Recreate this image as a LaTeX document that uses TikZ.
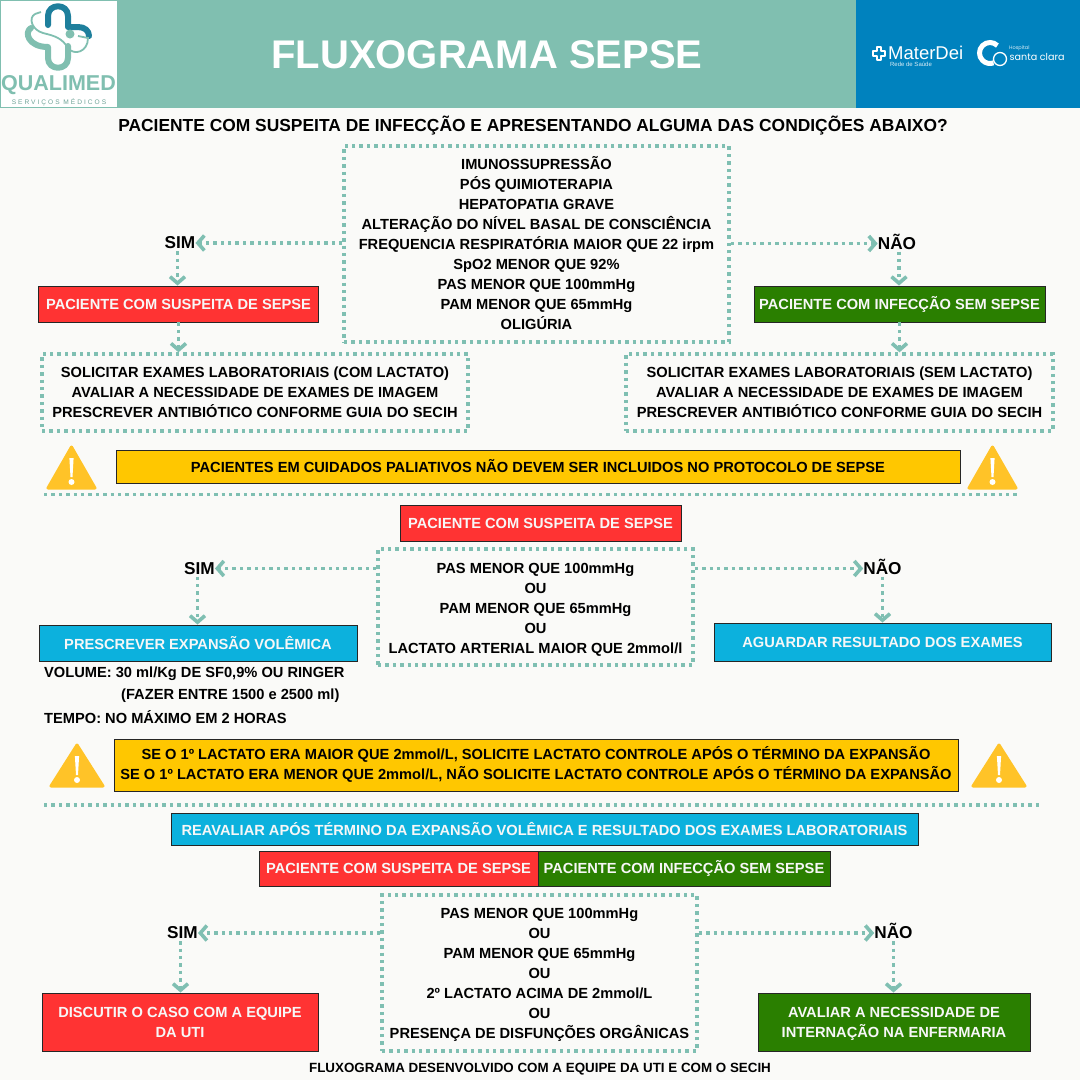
\documentclass[tikz,border=0pt]{standalone}
\usepackage{fontspec}
\setmainfont{Liberation Sans}
\newfontfamily\clarafont{Poppins}
\usetikzlibrary{arrows.meta}
\definecolor{bgc}{HTML}{FAFAF8}
\definecolor{tealc}{HTML}{80BFB0}
\definecolor{dotc}{HTML}{7FBFB2}
\definecolor{bluec}{HTML}{0082BE}
\definecolor{darkteal}{HTML}{1E7F9C}
\definecolor{redc}{HTML}{FF3333}
\definecolor{greenc}{HTML}{2A7F00}
\definecolor{cyanc}{HTML}{0CB1DD}
\definecolor{yellowc}{HTML}{FFC700}
\definecolor{warnc}{HTML}{FFC328}
\newcommand{\fs}[2]{\fontsize{#1}{#2}\selectfont}
\newcommand{\tb}[2]{\raisebox{#1pt}[0pt][0pt]{\begin{tabular}{@{}c@{}}#2\end{tabular}}}
\tikzset{
  x=1pt,y=-1pt,
  txt/.style={font=\bfseries\fs{14.65}{20},align=center,inner sep=0pt,text=black},
  sino/.style={font=\bfseries\fs{17.2}{20},inner sep=0pt,text=black,text height=11.8pt,text depth=0pt},
  solidbox/.style={draw=black!85,line width=0.9pt,inner sep=0pt,font=\bfseries\fs{14.65}{20},align=center,anchor=center},
  redbox/.style={solidbox,fill=redc,text=white!97!black},
  greenbox/.style={solidbox,fill=greenc,text=white!97!black},
  cyanbox/.style={solidbox,fill=cyanc,text=white!97!black},
  yellowbox/.style={solidbox,fill=yellowc,text=black},
  dotbox/.style={draw=dotc,line width=3.4pt,dash pattern=on 3.4pt off 4pt,inner sep=0pt,font=\bfseries\fs{14.65}{20},align=center,anchor=center},
  dotline/.style={draw=dotc,line width=3.4pt,dash pattern=on 3.4pt off 4pt},
  flow/.style={dotline,-{Straight Barb[length=6.5pt,width=15pt,line width=3.6pt]}},
  warnfill/.style={fill=warnc,draw=warnc,line width=3pt,line join=round},
}
\newcommand{\warnsign}[3]{%
  \path[warnfill] ({#1+2},#3+43) -- ({(#1+#2)/2},#3+2) -- ({#2-2},#3+43) -- cycle;
  \fill[white] ({(#1+#2)/2-2.1},#3+13) -- ({(#1+#2)/2+2.1},#3+13) -- ({(#1+#2)/2+1},#3+32) -- ({(#1+#2)/2-1},#3+32) -- cycle;
  \fill[white] ({(#1+#2)/2},#3+37) circle (3);
}
\begin{document}
\begin{tikzpicture}
\useasboundingbox (0,0) rectangle (1080,1080);
\fill[bgc] (0,0) rectangle (1080,1080);
% header
\fill[tealc] (117,0) rectangle (856,108);
\fill[bluec] (856,0) rectangle (1080,108);
\fill[white] (0,0) rectangle (117,108);
\draw[tealc,line width=0.8pt] (0.4,0.4) rectangle (117,107.6);
% qualimed logo
\draw[tealc,line width=6pt,line cap=round,line join=round] (31,28) .. controls (24,32) and (28,47) .. (48,47) -- (48,58) .. controls (48,71) and (68,71) .. (68,58) -- (68,46);
\draw[darkteal,line width=6pt,line cap=round,line join=round] (48,25) -- (48,16) .. controls (48,3) and (68,3) .. (68,16) -- (68,27) -- (78,27) .. controls (85,27) and (89,31) .. (89,36);
\draw[tealc,line width=1.8pt] (35,14) .. controls (28,18) and (32,30) .. (43,33) .. controls (55,36) and (62,38) .. (68,48) .. controls (74,56) and (88,52) .. (88,38) -- (78,36);
\draw[tealc,line width=1.8pt] (35,14) -- (41,12);
\fill[tealc] (70,34) circle (4.5);
\node[font=\bfseries\fs{21.5}{21.5},text=tealc,inner sep=0pt] (qualimed) at (58.5,85) {QUALIMED};
\node[font=\fs{6.6}{7}\addfontfeature{LetterSpace=30},text=tealc!85!black,inner sep=0pt] (servicos) at (59,102) {SERVIÇOS MÉDICOS};
\node[font=\bfseries\fs{40}{40},text=white,inner sep=0pt] (title) at (487,55) {FLUXOGRAMA SEPSE};
% partner logos
\draw[white,line width=1.6pt,line join=round] (877,47) -- (881,47) -- (881,51) -- (885,51)-- (885,56) -- (881,56) -- (881,60) -- (877,60) -- (877,56) -- (873,56) -- (873,51) -- (877,51) -- cycle;
\node[font=\fs{18.5}{18.5},text=white,inner sep=0pt,anchor=west] (mater) at (888,53) {MaterDei};
\node[font=\fs{6}{6},text=white!85!bluec,inner sep=0pt] (rede) at (911,64) {Rede de Saúde};
\draw[white,line width=5pt] (990,53) ++(-45:10.5) arc (-45:-290:10.5);
\draw[white,line width=1.3pt] (1000,59) circle (6.5);
\node[font=\clarafont\fs{5}{6},text=white!85!bluec,inner sep=0pt,anchor=west] (hospital) at (1009,48) {Hospital};
\node[font=\clarafont\fs{9.6}{12},text=white,inner sep=0pt,anchor=west] (clara) at (1009.5,56.5) {santa clara};
% section 1
\node[txt,font=\bfseries\fs{17.4}{20}] (q) at (533,126) {PACIENTE COM SUSPEITA DE INFECÇÃO E APRESENTANDO ALGUMA DAS CONDIÇÕES ABAIXO?};
\node[dotbox,minimum width=385pt,minimum height=196pt] (b1) at (536.5,244) {\tb{-4.8}{IMUNOSSUPRESSÃO\\PÓS QUIMIOTERAPIA\\HEPATOPATIA GRAVE\\ALTERAÇÃO DO NÍVEL BASAL DE CONSCIÊNCIA\\FREQUENCIA RESPIRATÓRIA MAIOR QUE 22 irpm\\SpO2 MENOR QUE 92\%\\PAS MENOR QUE 100mmHg\\PAM MENOR QUE 65mmHg\\OLIGÚRIA}};
\node[sino] (s1) at (180,243) {SIM};
\node[sino] (n1) at (897,243.5) {NÃO};
\node[redbox,minimum width=280pt,minimum height=36pt] (r1) at (178.5,304) {PACIENTE COM SUSPEITA DE SEPSE};
\node[greenbox,minimum width=291pt,minimum height=36pt] (g1) at (899.5,304) {PACIENTE COM INFECÇÃO SEM SEPSE};
\node[dotbox,minimum width=426pt,minimum height=77pt] (l1) at (255,392.5) {\tb{-4.3}{SOLICITAR EXAMES LABORATORIAIS (COM LACTATO)\\AVALIAR A NECESSIDADE DE EXAMES DE IMAGEM\\PRESCREVER ANTIBIÓTICO CONFORME GUIA DO SECIH}};
\node[dotbox,minimum width=427pt,minimum height=77pt] (l2) at (839.5,392.5) {\tb{-4.3}{SOLICITAR EXAMES LABORATORIAIS (SEM LACTATO)\\AVALIAR A NECESSIDADE DE EXAMES DE IMAGEM\\PRESCREVER ANTIBIÓTICO CONFORME GUIA DO SECIH}};
\draw[flow] (b1.west |- s1) -- (s1.east);
\draw[flow] (b1.east |- n1) -- (n1.west);
\draw[flow] ([xshift=-2.5pt,yshift=-2pt]s1.south) -- ([xshift=-2.5pt]s1.south |- r1.north);
\draw[flow] ([xshift=2pt,yshift=-2pt]n1.south) -- ([xshift=2pt]n1.south |- g1.north);
\draw[flow] (r1.south) -- (r1.south |- l1.north);
\draw[flow] (g1.south) -- (g1.south |- l2.north);
\warnsign{46}{97}{445}
\node[yellowbox,minimum width=844pt,minimum height=33pt] (y1) at (538,466.5) {PACIENTES EM CUIDADOS PALIATIVOS NÃO DEVEM SER INCLUIDOS NO PROTOCOLO DE SEPSE};
\warnsign{967}{1018}{445}
\coordinate (d1a) at (44,494.5);
\coordinate (d1b) at (1020,494.5);
\draw[dotline] (d1a) -- (d1b);
% section 2
\node[redbox,minimum width=281pt,minimum height=36pt] (r2) at (540.5,523) {PACIENTE COM SUSPEITA DE SEPSE};
\node[dotbox,minimum width=315pt,minimum height=116pt] (b2) at (535.5,607) {\tb{-5.8}{PAS MENOR QUE 100mmHg\\OU\\PAM MENOR QUE 65mmHg\\OU\\LACTATO ARTERIAL MAIOR QUE 2mmol/l}};
\node[sino] (s2) at (199.5,568.5) {SIM};
\node[sino] (n2) at (882.5,568.5) {NÃO};
\node[cyanbox,minimum width=318pt,minimum height=36pt] (c1) at (198,643) {PRESCREVER EXPANSÃO VOLÊMICA};
\node[cyanbox,minimum width=337pt,minimum height=38pt] (c2) at (882.5,642) {AGUARDAR RESULTADO DOS EXAMES};
\draw[flow] (b2.west |- s2) -- (s2.east);
\draw[flow] (b2.east |- n2) -- (n2.west);
\draw[flow] ([xshift=-2pt,yshift=-2pt]s2.south) -- ([xshift=-2pt]s2.south |- c1.north);
\draw[flow] ([yshift=-2pt]n2.south) -- (n2.south |- c2.north);
\node[txt,anchor=west] (v1) at (44,674) {VOLUME: 30 ml/Kg DE SF0,9\% OU RINGER};
\node[txt,anchor=west] (v2) at (121,696) {(FAZER ENTRE 1500 e 2500 ml)};
\node[txt,anchor=west] (v3) at (44,717) {TEMPO: NO MÁXIMO EM 2 HORAS};
\warnsign{49}{105}{743}
\node[yellowbox,minimum width=844pt,minimum height=52pt] (y2) at (536,765) {\tb{-4.3}{SE O 1º LACTATO ERA MAIOR QUE 2mmol/L, SOLICITE LACTATO CONTROLE APÓS O TÉRMINO DA EXPANSÃO\\SE O 1º LACTATO ERA MENOR QUE 2mmol/L, NÃO SOLICITE LACTATO CONTROLE APÓS O TÉRMINO DA EXPANSÃO}};
\warnsign{971}{1027}{743}
\coordinate (d2a) at (44,805);
\coordinate (d2b) at (1040,805);
\draw[dotline] (d2a) -- (d2b);
% section 3
\node[cyanbox,minimum width=747pt,minimum height=32pt] (c3) at (544.5,829) {REAVALIAR APÓS TÉRMINO DA EXPANSÃO VOLÊMICA E RESULTADO DOS EXAMES LABORATORIAIS};
\node[redbox,minimum width=279pt,minimum height=35pt] (r3) at (398.5,868.5) {PACIENTE COM SUSPEITA DE SEPSE};
\node[greenbox,minimum width=292pt,minimum height=35pt] (g3) at (684,868.5) {PACIENTE COM INFECÇÃO SEM SEPSE};
\node[dotbox,minimum width=315pt,minimum height=156pt] (b3) at (539.5,973) {\tb{-4.8}{PAS MENOR QUE 100mmHg\\OU\\PAM MENOR QUE 65mmHg\\OU\\2º LACTATO ACIMA DE 2mmol/L\\OU\\PRESENÇA DE DISFUNÇÕES ORGÂNICAS}};
\node[sino] (s3) at (182.5,933) {SIM};
\node[sino] (n3) at (893.5,933) {NÃO};
\node[redbox,minimum width=276pt,minimum height=58pt] (r4) at (180,1022) {\tb{-4.8}{DISCUTIR O CASO COM A EQUIPE\\DA UTI}};
\node[greenbox,minimum width=272pt,minimum height=58pt] (g4) at (894,1022) {\tb{-4.8}{AVALIAR A NECESSIDADE DE\\INTERNAÇÃO NA ENFERMARIA}};
\draw[flow] (b3.west |- s3) -- (s3.east);
\draw[flow] (b3.east |- n3) -- (n3.west);
\draw[flow] ([xshift=-2pt,yshift=-2pt]s3.south) -- ([xshift=-2pt]s3.south |- r4.north);
\draw[flow] ([yshift=-2pt]n3.south) -- (n3.south |- g4.north);
\node[txt,font=\bfseries\fs{13.37}{14}] (foot) at (540,1069.5) {FLUXOGRAMA DESENVOLVIDO COM A EQUIPE DA UTI E COM O SECIH};
\end{tikzpicture}
\end{document}
